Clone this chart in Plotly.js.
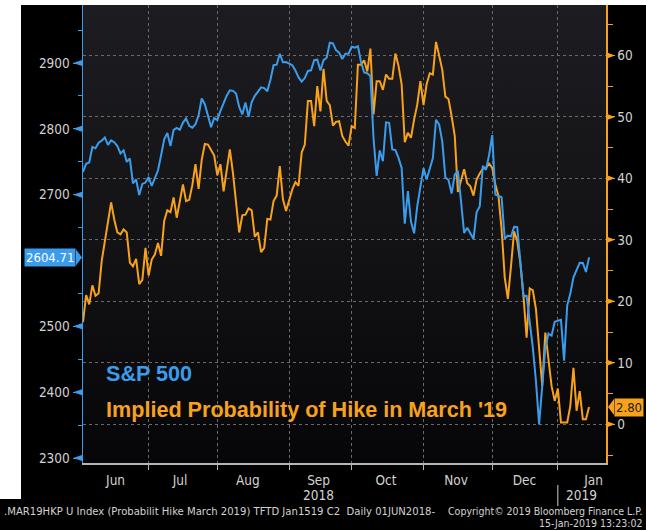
<!DOCTYPE html>
<html>
<head>
<meta charset="utf-8">
<script src="https://cdn.plot.ly/plotly-3.0.1.min.js"></script>
<style>
html,body{margin:0;padding:0;background:#000;}
#wrap{position:relative;width:646px;height:530px;background:#000;}
#plotbg{position:absolute;left:83px;top:5px;width:523px;height:458px;
  background:linear-gradient(to bottom,#1d1d21 0%,#121215 55%,#060609 100%);}
#chart{position:absolute;left:0;top:0;width:646px;height:530px;}
</style>
</head>
<body>
<div id="wrap"><div id="plotbg"></div><div id="chart"></div></div>
<script>
// ---------------- DATA ----------------
const START_DATE = '2018-06-01';
const END_DATE = '2019-01-15';

// S&P 500 close, one value per weekday (null = US market holiday)
const spx = [
  // Jun
  2734.6, 2746.9, 2748.8, 2772.4, 2770.4, 2779.0, 2782.0, 2786.9, 2775.6, 2782.5, 2779.7,
  2773.8, 2762.6, 2767.3, 2749.8, 2754.9, 2717.1, 2723.1, 2699.6, 2716.3, 2718.4,
  // Jul
  2726.7, 2713.2, null, 2736.6, 2759.8, 2784.2, 2793.8, 2774.0, 2798.3, 2801.3, 2798.4,
  2809.6, 2815.6, 2804.5, 2801.8, 2807.0, 2820.4, 2846.1, 2837.4, 2818.8, 2802.6, 2816.3,
  // Aug
  2813.4, 2827.2, 2840.4, 2850.4, 2858.5, 2857.7, 2853.6, 2833.3, 2821.9, 2840.0, 2818.4,
  2840.7, 2850.1, 2857.1, 2863.0, 2861.8, 2857.0, 2874.7, 2896.7, 2897.5, 2914.0, 2901.1, 2901.5,
  // Sep
  null, 2896.7, 2888.6, 2878.1, 2871.7, 2877.1, 2887.9, 2888.9, 2904.2, 2905.0, 2888.8,
  2904.3, 2908.0, 2930.8, 2929.7, 2919.4, 2915.6, 2906.0, 2914.0, 2914.0,
  // Oct
  2924.6, 2923.4, 2925.5, 2901.6, 2885.6, 2884.4, 2880.3, 2785.7, 2728.4, 2767.1, 2750.8,
  2809.9, 2809.2, 2768.8, 2767.8, 2755.9, 2740.7, 2656.1, 2705.6, 2658.7, 2641.3, 2682.6, 2711.7,
  // Nov
  2740.4, 2723.1, 2738.3, 2755.5, 2813.9, 2806.8, 2781.0, 2726.2, 2722.2, 2701.6, 2730.2,
  2736.3, 2690.7, 2641.9, 2649.9, null, 2632.6, 2673.5, 2682.2, 2743.8, 2737.8, 2760.2,
  // Dec
  2790.4, 2700.1, null, 2696.0, 2633.1, 2637.7, 2636.8, 2651.1, 2650.5, 2600.0, 2545.9,
  2546.2, 2507.0, 2467.4, 2416.6, 2351.1, null, 2467.7, 2488.8, 2485.7, 2506.9,
  // Jan
  null, 2510.0, 2447.9, 2531.9, 2549.7, 2574.4, 2585.0, 2596.6, 2596.3, 2582.6, 2604.71
];

// Implied probability (%) of a hike in March 2019, one value per weekday
const hikeProb = [
  // Jun
  16.6, 21.0, 19.5, 22.6, 20.9, 21.3, 26.6, 29.8, 32.9, 36.1, 33.3,
  31.2, 30.9, 31.7, 31.2, 26.3, 25.7, 26.9, 22.8, 23.5, 28.7,
  // Jul
  24.2, 26.8, 27.6, 29.5, 27.4, 33.1, 34.8, 34.5, 36.9, 33.6, 36.3,
  39.0, 36.3, 36.5, 38.9, 42.3, 38.3, 43.0, 45.6, 45.5, 44.6, 43.7,
  // Aug
  40.5, 42.3, 37.9, 41.5, 44.7, 40.9, 36.3, 31.2, 34.0, 34.1, 35.1,
  34.8, 30.5, 31.2, 28.0, 28.7, 33.4, 33.3, 36.3, 37.2, 42.0, 36.6, 34.7,
  // Sep
  36.3, 38.2, 39.4, 38.8, 44.2, 45.5, 52.6, 52.6, 48.5, 55.0, 50.9,
  57.8, 52.6, 51.9, 48.6, 49.2, 49.3, 46.9, 46.0, 45.3,
  // Oct
  48.5, 48.2, 58.5, 58.5, 59.2, 57.4, 61.1, 50.4, 55.8, 55.8, 54.4,
  56.9, 56.2, 56.2, 60.3, 58.3, 55.3, 45.9, 47.4, 46.6, 49.6, 52.0, 55.8,
  // Nov
  51.9, 55.3, 57.1, 56.9, 62.2, 60.0, 57.7, 53.3, 52.9, 50.1, 46.9,
  37.8, 39.6, 41.5, 39.2, 38.7, 37.2, 39.8, 40.8, 41.6, 41.7, 42.4,
  // Dec
  41.7, 39.0, 37.1, 31.7, 23.9, 20.4, 25.7, 31.4, 29.8, 26.2, 20.9,
  14.1, 22.1, 21.8, 18.7, 12.7, 6.2, 14.9, 10.3, 6.2, 3.8,
  // Jan
  5.8, 0.3, 0.3, 0.3, 3.0, 9.2, 2.2, 5.4, 0.8, 0.8, 2.8
];

const leftTickVals = [2300, 2400, 2500, 2700, 2800, 2900];
const rightTickVals = [0, 10, 20, 30, 40, 50, 60];
const monthStarts = ['2018-07-02', '2018-08-01', '2018-09-03', '2018-10-01', '2018-11-01', '2018-12-03', '2019-01-01'];
const monthLabelPos = ['2018-06-15 10:00', '2018-07-16 02:00', '2018-08-14 19:00', '2018-09-14 10:00',
                       '2018-10-16 00:00', '2018-11-15 10:00', '2018-12-17 07:00', '2019-01-16 10:00'];
const monthLabels = ['Jun', 'Jul', 'Aug', 'Sep', 'Oct', 'Nov', 'Dec', 'Jan'];
const yearLabels = ['2018', '2019'];
const spxName = 'S&amp;P 500';
const hikeName = "Implied Probability of Hike in March '19";
const footerLeft = '.MAR19HKP U Index (Probabilit Hike March 2019) TFTD Jan1519 C2&nbsp; Daily 01JUN2018-';
const footerRight = 'Copyright\u00A9 2019 Bloomberg Finance L.P.';
const footerStamp = '15-Jan-2019 13:23:02';

// ---------------- STYLE ----------------
const BLUE = '#3b9cec';
const ORANGE = '#f7a11c';
const TXT = '#d2d2d2';
const GRID = '#6a6a6a';
const FONT = 'DejaVu Sans Condensed, DejaVu Sans, sans-serif';
const AXFONT = {family: FONT, size: 13.5, color: TXT};

function weekdayDates(start, end) {
  const out = [];
  const d = new Date(start + 'T00:00:00Z');
  const e = new Date(end + 'T00:00:00Z');
  while (d <= e) {
    const w = d.getUTCDay();
    if (w !== 0 && w !== 6) out.push(d.toISOString().slice(0, 10));
    d.setUTCDate(d.getUTCDate() + 1);
  }
  return out;
}
const dates = weekdayDates(START_DATE, END_DATE);

const W = 646, H = 530, ML = 83, MR = 40, MT = 5, MB = 67;
const PW = W - ML - MR, PH = H - MT - MB;
const px2x = p => (p - ML) / PW;
const py2y = p => (H - MB - p) / PH;

const shapes = [];
// white frame strips (left and top)
shapes.push({type: 'rect', xref: 'paper', yref: 'paper', x0: px2x(-2), x1: px2x(21), y0: py2y(499), y1: py2y(-2),
  fillcolor: '#ffffff', line: {width: 0}, layer: 'below'});
shapes.push({type: 'rect', xref: 'paper', yref: 'paper', x0: px2x(-2), x1: px2x(648), y0: py2y(5), y1: py2y(-2),
  fillcolor: '#ffffff', line: {width: 0}, layer: 'below'});
// tick arrow heads
leftTickVals.forEach(v => shapes.push({type: 'path', xref: 'paper', yref: 'y2', xsizemode: 'pixel', ysizemode: 'pixel',
  xanchor: 0, yanchor: v, path: 'M-10,0 L-1,3 L-1,-3 Z', fillcolor: BLUE, line: {color: BLUE, width: 0}}));
rightTickVals.forEach(v => shapes.push({type: 'path', xref: 'paper', yref: 'y', xsizemode: 'pixel', ysizemode: 'pixel',
  xanchor: 1, yanchor: v, path: 'M1,3 L9,0 L1,-3 Z', fillcolor: ORANGE, line: {color: ORANGE, width: 0}}));
// last-value tag arrows
const lastSpx = spx[spx.length - 1];
const lastHike = hikeProb[hikeProb.length - 1];
shapes.push({type: 'path', xref: 'paper', yref: 'y2', xsizemode: 'pixel', ysizemode: 'pixel',
  xanchor: 0, yanchor: lastSpx, path: 'M-7,8 L-1,0 L-7,-8 Z', fillcolor: BLUE, line: {color: BLUE, width: 0}});
shapes.push({type: 'path', xref: 'paper', yref: 'y', xsizemode: 'pixel', ysizemode: 'pixel',
  xanchor: 1, yanchor: lastHike, path: 'M8,8 L2,0 L8,-8 Z', fillcolor: ORANGE, line: {color: ORANGE, width: 0}});
// year separator
shapes.push({type: 'line', xref: 'x', yref: 'paper', x0: monthStarts[6], x1: monthStarts[6],
  y0: py2y(485), y1: py2y(506), line: {color: '#cfcfcf', width: 1}});

const annotations = [
  {text: spxName, xref: 'paper', yref: 'paper', x: px2x(104), y: py2y(373), xanchor: 'left', yanchor: 'middle',
   showarrow: false, font: {family: 'Liberation Sans, Arial, sans-serif', size: 21.6, color: BLUE, weight: 'bold'}},
  {text: hikeName, xref: 'paper', yref: 'paper', x: px2x(104), y: py2y(409), xanchor: 'left', yanchor: 'middle',
   showarrow: false, font: {family: 'Liberation Sans, Arial, sans-serif', size: 21.6, color: ORANGE, weight: 'bold'}},
  {text: lastSpx.toFixed(2), xref: 'paper', yref: 'y2', x: 0, y: lastSpx, xanchor: 'right', yanchor: 'middle',
   xshift: -7, showarrow: false, bgcolor: BLUE, borderpad: 1,
   font: {family: FONT, size: 13, color: '#ffffff'}},
  {text: lastHike.toFixed(2), xref: 'paper', yref: 'y', x: 1, y: lastHike, xanchor: 'left', yanchor: 'middle',
   xshift: 8, showarrow: false, bgcolor: ORANGE, borderpad: 1,
   font: {family: FONT, size: 13, color: '#222222'}},
  {text: yearLabels[0], xref: 'x', yref: 'paper', x: '2018-09-14 12:00', y: py2y(495), xanchor: 'center', yanchor: 'middle',
   showarrow: false, font: AXFONT},
  {text: yearLabels[1], xref: 'x', yref: 'paper', x: monthStarts[6], y: py2y(495), xanchor: 'left', yanchor: 'middle',
   xshift: 6, showarrow: false, font: AXFONT},
  {text: footerLeft, xref: 'paper', yref: 'paper', x: px2x(2), y: py2y(511), xanchor: 'left', yanchor: 'middle',
   showarrow: false, font: {family: FONT, size: 11.2, color: TXT}},
  {text: footerRight, xref: 'paper', yref: 'paper', x: px2x(644), y: py2y(511), xanchor: 'right', yanchor: 'middle',
   showarrow: false, font: {family: FONT, size: 10.5, color: TXT}},
  {text: footerStamp, xref: 'paper', yref: 'paper', x: px2x(644), y: py2y(523), xanchor: 'right', yanchor: 'middle',
   showarrow: false, font: {family: FONT, size: 10.5, color: TXT}}
];

const traces = [
  {x: dates, y: hikeProb, yaxis: 'y', type: 'scatter', mode: 'lines', connectgaps: true,
   line: {color: ORANGE, width: 2}, hoverinfo: 'skip', name: 'hike'},
  {x: dates, y: spx, yaxis: 'y2', type: 'scatter', mode: 'lines', connectgaps: true,
   line: {color: BLUE, width: 2}, hoverinfo: 'skip', name: 'spx'}
];

const layout = {
  width: W, height: H,
  margin: {l: ML, r: MR, t: MT, b: MB, pad: 0},
  paper_bgcolor: 'rgba(0,0,0,0)',
  plot_bgcolor: 'rgba(0,0,0,0)',
  showlegend: false,
  xaxis: {
    type: 'date',
    range: ['2018-06-01', '2019-01-22 10:00'],
    rangebreaks: [{bounds: ['sat', 'mon']}],
    tickmode: 'array', tickvals: monthLabelPos, ticktext: monthLabels,
    ticks: '', showgrid: false, zeroline: false,
    showline: true, linecolor: '#b5b5b5', linewidth: 1.5,
    tickfont: AXFONT, ticklabelstandoff: 4,
    minor: {tickmode: 'array', tickvals: monthStarts, ticks: 'outside', ticklen: 5, tickcolor: '#b5b5b5',
            tickwidth: 1, showgrid: true, gridcolor: GRID, griddash: 'dot', gridwidth: 1}
  },
  yaxis: {
    side: 'right', range: [-6.3, 68.2],
    tickmode: 'array', tickvals: rightTickVals,
    showgrid: true, gridcolor: GRID, griddash: 'dot', gridwidth: 1, zeroline: false,
    showline: true, linecolor: ORANGE, linewidth: 1.5,
    ticks: 'outside', ticklen: 7, tickcolor: ORANGE, tickwidth: 1,
    tickfont: AXFONT,
    minor: {tickmode: 'linear', tick0: -5, dtick: 10, ticks: 'outside', ticklen: 5, tickcolor: ORANGE, showgrid: false}
  },
  yaxis2: {
    side: 'left', overlaying: 'y', range: [2292.4, 2988.1],
    tickmode: 'array', tickvals: leftTickVals,
    showgrid: false, zeroline: false,
    showline: true, linecolor: BLUE, linewidth: 1.5,
    ticks: 'outside', ticklen: 9, tickcolor: BLUE, tickwidth: 1,
    tickfont: AXFONT,
    minor: {tickmode: 'linear', tick0: 2350, dtick: 100, ticks: 'outside', ticklen: 4, tickcolor: BLUE, showgrid: false}
  },
  shapes: shapes,
  annotations: annotations
};

Plotly.newPlot('chart', traces, layout, {staticPlot: true, displayModeBar: false});
</script>
</body>
</html>
